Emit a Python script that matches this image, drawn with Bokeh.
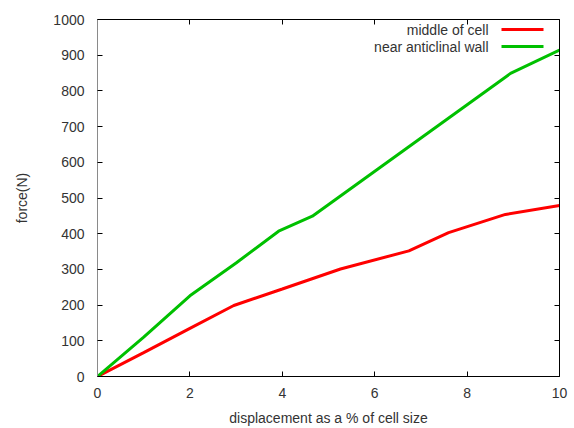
from bokeh.plotting import figure
from bokeh.models import (Range1d, LinearAxis, FixedTicker, Label, BoxAnnotation,
                          CustomJSTickFormatter)
from bokeh.embed import file_html
from bokeh.resources import INLINE

# data
disp_middle = [0, 1, 2, 2.95, 4, 5.26, 6.74, 7.6, 8.83, 10]
force_middle = [0, 67, 135, 199, 245, 301, 352, 403, 454, 479]
disp_wall = [0, 1, 2, 3, 3.92, 4.65, 8.94, 10]
force_wall = [0, 110, 226, 318, 407, 449, 849, 914]

x_ticks = [0, 2, 4, 6, 8, 10]
y_ticks = [0, 100, 200, 300, 400, 500, 600, 700, 800, 900, 1000]
series_names = ["middle of cell", "near anticlinal wall"]
series_colors = ["#ff0000", "#00c000"]

FONT = "Liberation Sans"
FS = "14px"
TXT = "#333333"

p = figure(width=574, height=428, output_backend="svg", toolbar_location=None,
           x_range=Range1d(0, 10), y_range=Range1d(0, 1000),
           min_border_left=97, min_border_right=15, min_border_top=19, min_border_bottom=50,
           x_axis_location=None, y_axis_location=None)
p.grid.visible = False
p.outline_line_color = None
p.background_fill_color = "white"
p.border_fill_color = "white"

blank = CustomJSTickFormatter(code="return '';")

def style(ax, labels=True, line_color="black"):
    ax.major_tick_in = 5
    ax.major_tick_out = 0
    ax.minor_tick_line_color = None
    ax.major_tick_line_color = "black"
    ax.axis_line_color = line_color
    ax.axis_line_width = 1
    ax.major_label_text_font = FONT
    ax.major_label_text_color = TXT
    ax.major_label_text_font_size = FS
    ax.axis_label_text_font = FONT
    ax.axis_label_text_font_style = "normal"
    ax.axis_label_text_color = TXT
    ax.axis_label_text_font_size = FS
    if not labels:
        ax.formatter = blank
        ax.major_label_standoff = 0

xb = LinearAxis(ticker=FixedTicker(ticks=x_ticks), axis_label="displacement as a % of cell size")
style(xb)
xb.major_label_standoff = 11
xb.axis_label_standoff = 9
p.add_layout(xb, "below")

yl = LinearAxis(ticker=FixedTicker(ticks=y_ticks), axis_label="force(N)")
style(yl, line_color="#8a8a8a")
yl.major_label_standoff = 13
yl.axis_label_standoff = 20
p.add_layout(yl, "left")

xt = LinearAxis(ticker=FixedTicker(ticks=x_ticks))
style(xt, labels=False)
p.add_layout(xt, "above")

yr = LinearAxis(ticker=FixedTicker(ticks=y_ticks))
style(yr, labels=False)
p.add_layout(yr, "right")

p.line(disp_middle, force_middle, line_color=series_colors[0], line_width=3)
p.line(disp_wall, force_wall, line_color=series_colors[1], line_width=3)

# gnuplot-style key: text right-aligned, sample line to its right (screen units)
for i, (name, col) in enumerate(zip(series_names, series_colors)):
    yc = 347 - 17 * i
    p.add_layout(Label(x=391, y=yc, x_units="screen", y_units="screen",
                       text=name, text_align="right", text_baseline="middle",
                       text_font=FONT, text_font_size=FS, text_color=TXT))
    p.add_layout(BoxAnnotation(left=404, right=446, bottom=yc - 1.5, top=yc + 1.5,
                               left_units="screen", right_units="screen",
                               bottom_units="screen", top_units="screen",
                               fill_color=col, fill_alpha=1, line_color=None,
                               level="overlay"))

open("out.html", "w").write(file_html(p, INLINE))
